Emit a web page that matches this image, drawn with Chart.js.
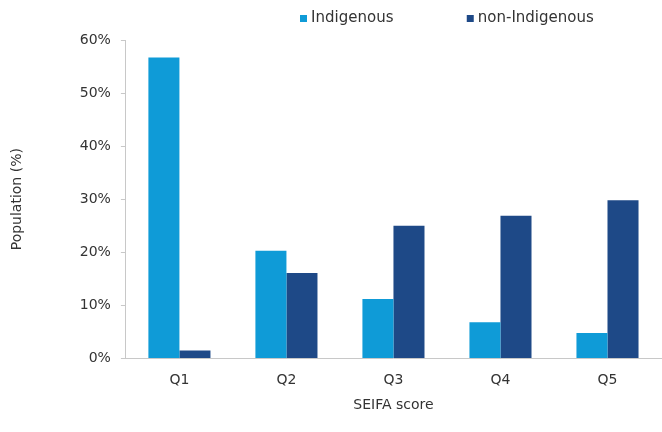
<!DOCTYPE html>
<html>
<head>
<meta charset="utf-8">
<script src="https://cdn.jsdelivr.net/npm/chart.js@4"></script>
<style>
html,body{margin:0;padding:0;background:#fff;}
#wrap{width:662px;height:432px;position:relative;}
</style>
</head>
<body>
<div id="wrap"><canvas id="c" width="662" height="432"></canvas></div>
<script>
const categories = ["Q1", "Q2", "Q3", "Q4", "Q5"];
const indigenous = [56.7, 20.3, 11.2, 6.8, 4.8];
const nonIndigenous = [1.5, 16.1, 25.0, 26.9, 29.8];
const seriesNames = ["Indigenous", "non-Indigenous"];
const yTicks = [0, 10, 20, 30, 40, 50, 60];

const FONT = 'DejaVu Sans, Verdana, sans-serif';

const legendSpace = {
  id: 'legendSpace',
  beforeInit(chart) {
    const lg = chart.legend;
    if (!lg) return;
    const orig = lg.fit;
    lg.fit = function() { orig.call(this); this.height += 4; };
  }
};

const ctx = document.getElementById('c').getContext('2d');
new Chart(ctx, {
  type: 'bar',
  data: {
    labels: categories,
    datasets: [
      { label: seriesNames[0], data: indigenous, backgroundColor: '#0f9bd7', borderWidth: 0 },
      { label: seriesNames[1], data: nonIndigenous, backgroundColor: '#1e4987', borderWidth: 0 }
    ]
  },
  plugins: [legendSpace],
  options: {
    responsive: false,
    animation: false,
    devicePixelRatio: 1,
    layout: { padding: { top: 1, right: 1, bottom: 18, left: 9 } },
    datasets: { bar: { barPercentage: 1.0, categoryPercentage: 0.58 } },
    plugins: {
      legend: {
        position: 'top',
        align: 'end',
        labels: {
          usePointStyle: true,
          pointStyle: 'rect',
          boxWidth: 0.1,
          boxHeight: 7,
          padding: 10,
          color: '#333',
          font: { family: FONT, size: 15 },
          generateLabels: function(chart) {
            const items = Chart.defaults.plugins.legend.labels.generateLabels(chart);
            items[0].text = items[0].text + '              ';
            items[1].text = items[1].text + '            ';
            items.forEach(it => { it.lineWidth = 0; it.pointStyle = 'rect'; });
            return items;
          }
        }
      },
      tooltip: { enabled: false }
    },
    scales: {
      x: {
        grid: { display: false },
        border: { display: true, color: '#c8c8c8', width: 1 },
        ticks: { color: '#333', padding: 6, font: { family: FONT, size: 14 } },
        title: { display: true, text: 'SEIFA score', color: '#333', padding: { top: 2, bottom: 0 }, font: { family: FONT, size: 14 } }
      },
      y: {
        min: 0,
        max: 60,
        afterBuildTicks: function(scale) { scale.ticks = yTicks.map(v => ({ value: v })); },
        grid: { display: true, drawOnChartArea: false, drawTicks: true, tickLength: 5, color: '#c8c8c8' },
        border: { display: true, color: '#c8c8c8', width: 1 },
        ticks: {
          color: '#333',
          padding: 10,
          font: { family: FONT, size: 14 },
          callback: function(v) { return v + '%'; }
        },
        title: { display: true, text: 'Population (%)', color: '#333', padding: { top: 0, bottom: 44 }, font: { family: FONT, size: 14 } }
      }
    }
  }
});
</script>
</body>
</html>
